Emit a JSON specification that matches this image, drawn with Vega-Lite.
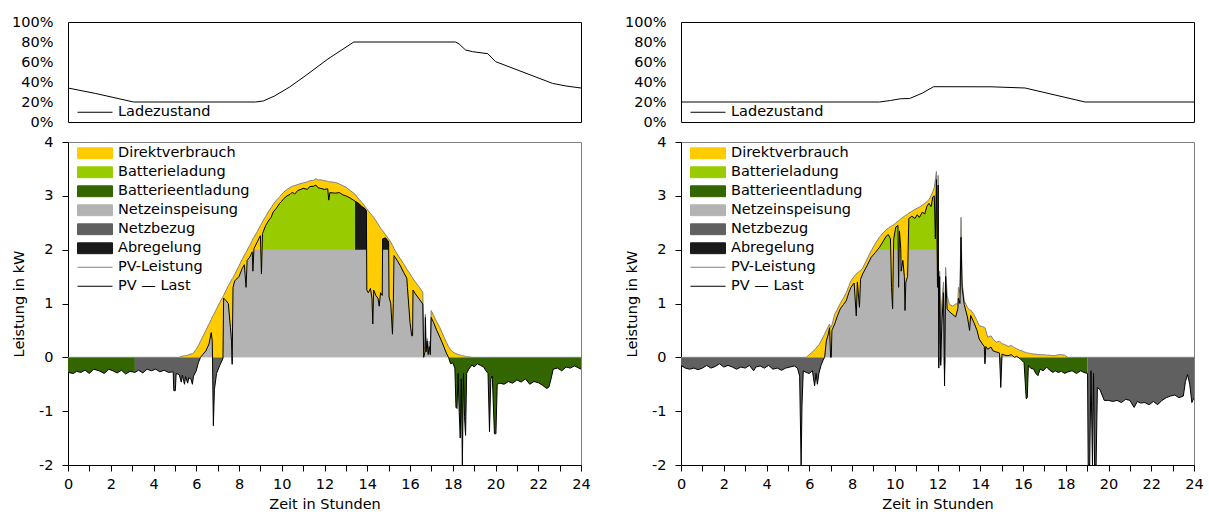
{
"$schema": "https://vega.github.io/schema/vega-lite/v6.json",
"background": "white",
"padding": {"left": 11, "top": 13, "right": 2, "bottom": 0},
"config": {
  "font": "DejaVu Sans",
  "view": {"stroke": "#808080", "strokeWidth": 1},
  "axis": {"labelFont": "DejaVu Sans", "titleFont": "DejaVu Sans", "labelFontSize": 14.5, "titleFontSize": 14.5, "titleFontWeight": "normal", "labelColor": "#000000", "titleColor": "#000000", "domainColor": "#000000", "tickColor": "#000000", "grid": false, "labelFlush": false, "labelOverlap": false},
  "legend": {"labelFont": "DejaVu Sans", "labelFontSize": 14.5, "labelColor": "#000000"}
},
"datasets": {
"sL": [{"t":0,"s":0.34},{"t":1.3,"s":0.285},{"t":3.07,"s":0.2},{"t":8.77,"s":0.2},{"t":9.13,"s":0.21},{"t":9.66,"s":0.26},{"t":10.37,"s":0.35},{"t":11.09,"s":0.46},{"t":12.16,"s":0.63},{"t":13.37,"s":0.8},{"t":18.13,"s":0.8},{"t":18.3,"s":0.78},{"t":18.6,"s":0.72},{"t":18.93,"s":0.703},{"t":19.64,"s":0.683},{"t":20.0,"s":0.604},{"t":22.67,"s":0.386},{"t":23.3,"s":0.36},{"t":24,"s":0.34}],
"sR": [{"t":0,"s":0.2},{"t":9.28,"s":0.2},{"t":9.8,"s":0.215},{"t":10.26,"s":0.232},{"t":10.7,"s":0.235},{"t":11.3,"s":0.29},{"t":11.82,"s":0.353},{"t":14.5,"s":0.352},{"t":16.1,"s":0.34},{"t":17.5,"s":0.27},{"t":18.9,"s":0.2},{"t":24,"s":0.2}],
"L": [
{"t":0,"p":0,"l":-0.28,"f":0,"n":-0.28},
{"t":0.25,"p":0,"l":-0.3,"f":0,"n":-0.3},
{"t":0.4,"p":0,"l":-0.26,"f":0,"n":-0.26},
{"t":0.6,"p":0,"l":-0.28,"f":0,"n":-0.28},
{"t":0.8,"p":0,"l":-0.24,"f":0,"n":-0.24},
{"t":1,"p":0,"l":-0.3,"f":0,"n":-0.3},
{"t":1.2,"p":0,"l":-0.22,"f":0,"n":-0.22},
{"t":1.45,"p":0,"l":-0.25,"f":0,"n":-0.25},
{"t":1.7,"p":0,"l":-0.3,"f":0,"n":-0.3},
{"t":1.9,"p":0,"l":-0.22,"f":0,"n":-0.22},
{"t":2.1,"p":0,"l":-0.25,"f":0,"n":-0.25},
{"t":2.3,"p":0,"l":-0.29,"f":0,"n":-0.29},
{"t":2.5,"p":0,"l":-0.24,"f":0,"n":-0.24},
{"t":2.7,"p":0,"l":-0.31,"f":0,"n":-0.31},
{"t":2.9,"p":0,"l":-0.26,"f":0,"n":-0.26},
{"t":3.13,"p":0,"l":-0.28,"f":0,"n":-0.28},
{"t":3.3,"p":0,"l":-0.24,"f":0,"n":-0.24},
{"t":3.5,"p":0,"l":-0.29,"f":0,"n":-0.29},
{"t":3.7,"p":0,"l":-0.22,"f":0,"n":-0.22},
{"t":3.9,"p":0,"l":-0.25,"f":0,"n":-0.25},
{"t":4.1,"p":0,"l":-0.22,"f":0,"n":-0.22},
{"t":4.3,"p":0,"l":-0.27,"f":0,"n":-0.27},
{"t":4.5,"p":0,"l":-0.24,"f":0,"n":-0.24},
{"t":4.7,"p":0,"l":-0.28,"f":0,"n":-0.28},
{"t":4.92,"p":0,"l":-0.27,"f":0,"n":-0.27},
{"t":4.95,"p":0,"l":-0.62,"f":0,"n":-0.62},
{"t":5.02,"p":0,"l":-0.62,"f":0,"n":-0.62},
{"t":5.06,"p":0,"l":-0.3,"f":0,"n":-0.3},
{"t":5.2,"p":0,"l":-0.32,"f":0,"n":-0.32},
{"t":5.3,"p":0.02,"l":-0.46,"f":0,"n":-0.46},
{"t":5.35,"p":0.02,"l":-0.33,"f":0,"n":-0.33},
{"t":5.45,"p":0.03,"l":-0.5,"f":0,"n":-0.5},
{"t":5.5,"p":0.03,"l":-0.36,"f":0,"n":-0.36},
{"t":5.6,"p":0.04,"l":-0.48,"f":0,"n":-0.48},
{"t":5.65,"p":0.05,"l":-0.38,"f":0,"n":-0.38},
{"t":5.75,"p":0.06,"l":-0.4,"f":0,"n":-0.4},
{"t":5.82,"p":0.07,"l":-0.5,"f":0,"n":-0.5},
{"t":5.87,"p":0.08,"l":-0.35,"f":0,"n":-0.35},
{"t":6.0,"p":0.15,"l":-0.25,"f":0,"n":-0.25},
{"t":6.1,"p":0.22,"l":-0.1,"f":0,"n":-0.1},
{"t":6.2,"p":0.3,"l":0,"f":0,"n":0},
{"t":6.3,"p":0.38,"l":0.05,"f":0.05,"n":0},
{"t":6.45,"p":0.5,"l":0.12,"f":0.12,"n":0},
{"t":6.6,"p":0.62,"l":0.25,"f":0.25,"n":0},
{"t":6.7,"p":0.7,"l":0.46,"f":0.46,"n":0},
{"t":6.75,"p":0.75,"l":0.3,"f":0.3,"n":0},
{"t":6.8,"p":0.78,"l":-1.27,"f":0,"n":-1.27},
{"t":6.85,"p":0.82,"l":-0.6,"f":0,"n":-0.6},
{"t":6.95,"p":0.9,"l":-0.3,"f":0,"n":-0.3},
{"t":7.1,"p":1.02,"l":-0.15,"f":0,"n":-0.15},
{"t":7.25,"p":1.13,"l":-0.02,"f":0,"n":-0.02},
{"t":7.28,"p":1.15,"l":1.1,"f":1.1,"n":0},
{"t":7.4,"p":1.25,"l":1.05,"f":1.05,"n":0},
{"t":7.5,"p":1.33,"l":1.0,"f":1.0,"n":0},
{"t":7.6,"p":1.4,"l":0.55,"f":0.55,"n":0},
{"t":7.65,"p":1.44,"l":0.3,"f":0.3,"n":0},
{"t":7.68,"p":1.46,"l":-0.13,"f":0,"n":-0.13},
{"t":7.72,"p":1.48,"l":1.3,"f":1.3,"n":0},
{"t":7.8,"p":1.54,"l":1.42,"f":1.42,"n":0},
{"t":8.0,"p":1.7,"l":1.5,"f":1.5,"n":0},
{"t":8.15,"p":1.82,"l":1.65,"f":1.65,"n":0},
{"t":8.25,"p":1.9,"l":1.72,"f":1.72,"n":0},
{"t":8.33,"p":1.95,"l":1.3,"f":1.3,"n":0},
{"t":8.38,"p":1.99,"l":1.8,"f":1.8,"n":0},
{"t":8.5,"p":2.08,"l":1.86,"f":1.86,"n":0},
{"t":8.62,"p":2.17,"l":1.96,"f":1.96,"n":0},
{"t":8.65,"p":2.2,"l":1.6,"f":1.6,"n":0},
{"t":8.7,"p":2.23,"l":2.02,"f":2,"n":0},
{"t":8.85,"p":2.33,"l":2.14,"f":2,"n":0},
{"t":9.0,"p":2.45,"l":2.26,"f":2,"n":0},
{"t":9.05,"p":2.48,"l":1.55,"f":1.55,"n":0},
{"t":9.1,"p":2.52,"l":2.3,"f":2,"n":0,"cg":1},
{"t":9.25,"p":2.62,"l":2.45,"f":2,"n":0,"cg":1},
{"t":9.4,"p":2.72,"l":2.55,"f":2,"n":0,"cg":1},
{"t":9.5,"p":2.78,"l":2.6,"f":2,"n":0,"cg":1},
{"t":9.6,"p":2.84,"l":2.7,"f":2,"n":0,"cg":1},
{"t":9.75,"p":2.92,"l":2.77,"f":2,"n":0,"cg":1},
{"t":9.9,"p":2.98,"l":2.86,"f":2,"n":0,"cg":1},
{"t":10.0,"p":3.03,"l":2.9,"f":2,"n":0,"cg":1},
{"t":10.1,"p":3.07,"l":2.95,"f":2,"n":0,"cg":1},
{"t":10.25,"p":3.12,"l":3.0,"f":2,"n":0,"cg":1},
{"t":10.4,"p":3.16,"l":3.03,"f":2,"n":0,"cg":1},
{"t":10.5,"p":3.18,"l":3.07,"f":2,"n":0,"cg":1},
{"t":10.6,"p":3.19,"l":3.03,"f":2,"n":0,"cg":1},
{"t":10.75,"p":3.21,"l":3.1,"f":2,"n":0,"cg":1},
{"t":10.9,"p":3.23,"l":3.12,"f":2,"n":0,"cg":1},
{"t":11.0,"p":3.24,"l":3.14,"f":2,"n":0,"cg":1},
{"t":11.2,"p":3.26,"l":3.12,"f":2,"n":0,"cg":1},
{"t":11.3,"p":3.28,"l":3.17,"f":2,"n":0,"cg":1},
{"t":11.5,"p":3.29,"l":3.18,"f":2,"n":0,"cg":1},
{"t":11.6,"p":3.32,"l":3.2,"f":2,"n":0,"cg":1},
{"t":11.7,"p":3.29,"l":3.15,"f":2,"n":0,"cg":1},
{"t":11.8,"p":3.3,"l":3.14,"f":2,"n":0,"cg":1},
{"t":12.0,"p":3.28,"l":3.12,"f":2,"n":0,"cg":1},
{"t":12.15,"p":3.27,"l":3.13,"f":2,"n":0,"cg":1},
{"t":12.2,"p":3.26,"l":2.92,"f":2,"n":0,"cg":1},
{"t":12.25,"p":3.26,"l":3.06,"f":2,"n":0,"cg":1},
{"t":12.5,"p":3.25,"l":3.05,"f":2,"n":0,"cg":1},
{"t":12.7,"p":3.22,"l":3.06,"f":2,"n":0,"cg":1},
{"t":12.85,"p":3.19,"l":3.02,"f":2,"n":0,"cg":1},
{"t":13.0,"p":3.16,"l":3.0,"f":2,"n":0,"cg":1},
{"t":13.2,"p":3.1,"l":2.96,"f":2,"n":0,"cg":1},
{"t":13.43,"p":3.03,"l":2.9,"f":2,"n":0,"cg":1,"kg":1},
{"t":13.6,"p":2.94,"l":2.86,"f":2,"n":0,"kg":1},
{"t":13.75,"p":2.88,"l":2.8,"f":2,"n":0,"kg":1},
{"t":13.9,"p":2.8,"l":2.76,"f":2,"n":0,"kg":1},
{"t":13.96,"p":2.77,"l":2.72,"f":2,"n":0,"kg":1},
{"t":13.98,"p":2.76,"l":1.25,"f":1.25,"n":0},
{"t":14.05,"p":2.72,"l":1.2,"f":1.2,"n":0},
{"t":14.15,"p":2.67,"l":1.28,"f":1.28,"n":0},
{"t":14.22,"p":2.64,"l":1.1,"f":1.1,"n":0},
{"t":14.26,"p":2.62,"l":0.62,"f":0.62,"n":0},
{"t":14.3,"p":2.6,"l":1.25,"f":1.25,"n":0},
{"t":14.4,"p":2.54,"l":1.15,"f":1.15,"n":0},
{"t":14.5,"p":2.48,"l":1.1,"f":1.1,"n":0},
{"t":14.56,"p":2.44,"l":0.95,"f":0.95,"n":0},
{"t":14.62,"p":2.4,"l":1.2,"f":1.2,"n":0},
{"t":14.7,"p":2.36,"l":1.15,"f":1.15,"n":0},
{"t":14.72,"p":2.35,"l":2.2,"f":2,"n":0,"kg":2},
{"t":14.85,"p":2.28,"l":2.22,"f":2,"n":0,"kg":2},
{"t":15.0,"p":2.2,"l":2.15,"f":2,"n":0,"kg":2},
{"t":15.02,"p":2.19,"l":1.12,"f":1.12,"n":0},
{"t":15.1,"p":2.14,"l":1.0,"f":1.0,"n":0},
{"t":15.18,"p":2.08,"l":0.43,"f":0.43,"n":0},
{"t":15.22,"p":2.05,"l":1.0,"f":1.0,"n":0},
{"t":15.25,"p":2.02,"l":1.89,"f":1.89,"n":0},
{"t":15.4,"p":1.92,"l":1.8,"f":1.8,"n":0},
{"t":15.55,"p":1.83,"l":1.7,"f":1.7,"n":0},
{"t":15.7,"p":1.74,"l":1.58,"f":1.58,"n":0},
{"t":15.85,"p":1.64,"l":1.47,"f":1.47,"n":0},
{"t":15.88,"p":1.62,"l":1.3,"f":1.3,"n":0},
{"t":16.0,"p":1.55,"l":0.65,"f":0.65,"n":0},
{"t":16.08,"p":1.5,"l":0.4,"f":0.4,"n":0},
{"t":16.12,"p":1.48,"l":0.4,"f":0.4,"n":0},
{"t":16.14,"p":1.46,"l":1.25,"f":1.25,"n":0},
{"t":16.25,"p":1.4,"l":1.18,"f":1.18,"n":0},
{"t":16.4,"p":1.32,"l":1.1,"f":1.1,"n":0},
{"t":16.6,"p":1.21,"l":0.99,"f":0.99,"n":0},
{"t":16.64,"p":0.15,"l":0,"f":0,"n":0},
{"t":16.7,"p":0.2,"l":0.1,"f":0.1,"n":0},
{"t":16.72,"p":0.8,"l":0.74,"f":0.74,"n":0},
{"t":16.75,"p":0.2,"l":0.1,"f":0.1,"n":0},
{"t":16.8,"p":0.35,"l":0.3,"f":0.3,"n":0},
{"t":16.85,"p":0.12,"l":0.05,"f":0.05,"n":0},
{"t":16.9,"p":0.3,"l":0.2,"f":0.2,"n":0},
{"t":16.95,"p":0.1,"l":0.05,"f":0.05,"n":0},
{"t":16.99,"p":0.87,"l":0.74,"f":0.74,"n":0},
{"t":17.1,"p":0.78,"l":0.65,"f":0.65,"n":0},
{"t":17.25,"p":0.66,"l":0.5,"f":0.5,"n":0},
{"t":17.4,"p":0.55,"l":0.37,"f":0.37,"n":0},
{"t":17.5,"p":0.46,"l":0.28,"f":0.28,"n":0},
{"t":17.6,"p":0.37,"l":0.18,"f":0.18,"n":0},
{"t":17.7,"p":0.28,"l":0.08,"f":0.08,"n":0},
{"t":17.8,"p":0.2,"l":0,"f":0,"n":0},
{"t":17.9,"p":0.14,"l":-0.12,"f":0,"n":-0.12},
{"t":18.0,"p":0.1,"l":-0.1,"f":0,"n":-0.1},
{"t":18.1,"p":0.08,"l":-0.2,"f":0,"n":-0.2},
{"t":18.15,"p":0.07,"l":-0.93,"f":0,"n":-0.93},
{"t":18.2,"p":0.06,"l":-0.95,"f":0,"n":-0.95},
{"t":18.25,"p":0.05,"l":-0.3,"f":0,"n":-0.3},
{"t":18.3,"p":0.05,"l":-1.0,"f":0,"n":-1.0},
{"t":18.35,"p":0.04,"l":-1.5,"f":0,"n":-1.5},
{"t":18.4,"p":0.04,"l":-0.4,"f":0,"n":-0.4},
{"t":18.45,"p":0.03,"l":-2.0,"f":0,"n":-2.0},
{"t":18.5,"p":0.03,"l":-0.3,"f":0,"n":-0.3},
{"t":18.55,"p":0.02,"l":-1.1,"f":0,"n":-1.1},
{"t":18.6,"p":0.02,"l":-1.45,"f":0,"n":-1.45},
{"t":18.65,"p":0.01,"l":-0.3,"f":0,"n":-0.3},
{"t":18.75,"p":0.01,"l":-0.22,"f":0,"n":-0.22},
{"t":18.9,"p":0,"l":-0.14,"f":0,"n":-0.14},
{"t":19.0,"p":0,"l":-0.18,"f":0,"n":-0.18},
{"t":19.15,"p":0,"l":-0.12,"f":0,"n":-0.12},
{"t":19.3,"p":0,"l":-0.15,"f":0,"n":-0.15},
{"t":19.45,"p":0,"l":-0.18,"f":0,"n":-0.18},
{"t":19.55,"p":0,"l":-0.25,"f":0,"n":-0.25},
{"t":19.65,"p":0,"l":-0.3,"f":0,"n":-0.3},
{"t":19.72,"p":0,"l":-1.38,"f":0,"n":-1.38},
{"t":19.78,"p":0,"l":-0.4,"f":0,"n":-0.4},
{"t":19.85,"p":0,"l":-0.35,"f":0,"n":-0.35},
{"t":19.95,"p":0,"l":-1.42,"f":0,"n":-1.42},
{"t":20.02,"p":0,"l":-1.42,"f":0,"n":-1.42},
{"t":20.08,"p":0,"l":-0.5,"f":0,"n":-0.5},
{"t":20.2,"p":0,"l":-0.48,"f":0,"n":-0.48},
{"t":20.4,"p":0,"l":-0.5,"f":0,"n":-0.5},
{"t":20.6,"p":0,"l":-0.45,"f":0,"n":-0.45},
{"t":20.8,"p":0,"l":-0.48,"f":0,"n":-0.48},
{"t":21.0,"p":0,"l":-0.42,"f":0,"n":-0.42},
{"t":21.2,"p":0,"l":-0.46,"f":0,"n":-0.46},
{"t":21.4,"p":0,"l":-0.4,"f":0,"n":-0.4},
{"t":21.6,"p":0,"l":-0.5,"f":0,"n":-0.5},
{"t":21.8,"p":0,"l":-0.45,"f":0,"n":-0.45},
{"t":22.0,"p":0,"l":-0.47,"f":0,"n":-0.47},
{"t":22.2,"p":0,"l":-0.52,"f":0,"n":-0.52},
{"t":22.4,"p":0,"l":-0.58,"f":0,"n":-0.58},
{"t":22.5,"p":0,"l":-0.55,"f":0,"n":-0.55},
{"t":22.6,"p":0,"l":-0.4,"f":0,"n":-0.4},
{"t":22.7,"p":0,"l":-0.22,"f":0,"n":-0.22},
{"t":22.9,"p":0,"l":-0.2,"f":0,"n":-0.2},
{"t":23.1,"p":0,"l":-0.25,"f":0,"n":-0.25},
{"t":23.3,"p":0,"l":-0.18,"f":0,"n":-0.18},
{"t":23.5,"p":0,"l":-0.2,"f":0,"n":-0.2},
{"t":23.7,"p":0,"l":-0.16,"f":0,"n":-0.16},
{"t":23.9,"p":0,"l":-0.2,"f":0,"n":-0.2},
{"t":24,"p":0,"l":-0.22,"f":0,"n":-0.22}
],
"R": [
{"t":0,"p":0,"l":-0.15,"f":0,"n":-0.15},
{"t":0.2,"p":0,"l":-0.2,"f":0,"n":-0.2},
{"t":0.4,"p":0,"l":-0.22,"f":0,"n":-0.22},
{"t":0.6,"p":0,"l":-0.2,"f":0,"n":-0.2},
{"t":0.8,"p":0,"l":-0.23,"f":0,"n":-0.23},
{"t":1.0,"p":0,"l":-0.2,"f":0,"n":-0.2},
{"t":1.2,"p":0,"l":-0.15,"f":0,"n":-0.15},
{"t":1.4,"p":0,"l":-0.2,"f":0,"n":-0.2},
{"t":1.6,"p":0,"l":-0.17,"f":0,"n":-0.17},
{"t":1.8,"p":0,"l":-0.12,"f":0,"n":-0.12},
{"t":2.0,"p":0,"l":-0.18,"f":0,"n":-0.18},
{"t":2.2,"p":0,"l":-0.15,"f":0,"n":-0.15},
{"t":2.4,"p":0,"l":-0.18,"f":0,"n":-0.18},
{"t":2.6,"p":0,"l":-0.22,"f":0,"n":-0.22},
{"t":2.8,"p":0,"l":-0.18,"f":0,"n":-0.18},
{"t":3.0,"p":0,"l":-0.2,"f":0,"n":-0.2},
{"t":3.2,"p":0,"l":-0.15,"f":0,"n":-0.15},
{"t":3.4,"p":0,"l":-0.25,"f":0,"n":-0.25},
{"t":3.5,"p":0,"l":-0.18,"f":0,"n":-0.18},
{"t":3.7,"p":0,"l":-0.16,"f":0,"n":-0.16},
{"t":3.9,"p":0,"l":-0.2,"f":0,"n":-0.2},
{"t":4.1,"p":0,"l":-0.15,"f":0,"n":-0.15},
{"t":4.3,"p":0,"l":-0.22,"f":0,"n":-0.22},
{"t":4.5,"p":0,"l":-0.2,"f":0,"n":-0.2},
{"t":4.7,"p":0,"l":-0.24,"f":0,"n":-0.24},
{"t":4.9,"p":0,"l":-0.2,"f":0,"n":-0.2},
{"t":5.1,"p":0,"l":-0.18,"f":0,"n":-0.18},
{"t":5.3,"p":0,"l":-0.16,"f":0,"n":-0.16},
{"t":5.45,"p":0,"l":-0.2,"f":0,"n":-0.2},
{"t":5.55,"p":0,"l":-0.35,"f":0,"n":-0.35},
{"t":5.62,"p":0,"l":-2.0,"f":0,"n":-2.0},
{"t":5.66,"p":0,"l":-0.9,"f":0,"n":-0.9},
{"t":5.72,"p":0,"l":-0.25,"f":0,"n":-0.25},
{"t":5.86,"p":0,"l":-0.28,"f":0,"n":-0.28},
{"t":6.0,"p":0.05,"l":-0.3,"f":0,"n":-0.3},
{"t":6.15,"p":0.1,"l":-0.25,"f":0,"n":-0.25},
{"t":6.25,"p":0.14,"l":-0.53,"f":0,"n":-0.53},
{"t":6.32,"p":0.17,"l":-0.3,"f":0,"n":-0.3},
{"t":6.38,"p":0.2,"l":-0.5,"f":0,"n":-0.5},
{"t":6.45,"p":0.23,"l":-0.3,"f":0,"n":-0.3},
{"t":6.55,"p":0.3,"l":-0.15,"f":0,"n":-0.15},
{"t":6.65,"p":0.38,"l":-0.05,"f":0,"n":-0.05},
{"t":6.72,"p":0.43,"l":0,"f":0,"n":0},
{"t":6.8,"p":0.5,"l":0.3,"f":0.3,"n":0},
{"t":6.9,"p":0.58,"l":0.45,"f":0.45,"n":0},
{"t":6.95,"p":0.62,"l":0.55,"f":0.55,"n":0},
{"t":7.0,"p":0.55,"l":0,"f":0,"n":0},
{"t":7.03,"p":0.56,"l":0,"f":0,"n":0},
{"t":7.06,"p":0.6,"l":0.5,"f":0.5,"n":0},
{"t":7.19,"p":0.8,"l":0.62,"f":0.62,"n":0},
{"t":7.3,"p":0.88,"l":0.75,"f":0.75,"n":0},
{"t":7.45,"p":1.0,"l":0.9,"f":0.9,"n":0},
{"t":7.6,"p":1.1,"l":0.98,"f":0.98,"n":0},
{"t":7.73,"p":1.2,"l":1.05,"f":1.05,"n":0},
{"t":7.85,"p":1.32,"l":1.2,"f":1.2,"n":0},
{"t":7.95,"p":1.42,"l":1.3,"f":1.3,"n":0},
{"t":8.1,"p":1.5,"l":1.38,"f":1.38,"n":0},
{"t":8.2,"p":1.55,"l":0.77,"f":0.77,"n":0},
{"t":8.25,"p":1.57,"l":1.4,"f":1.4,"n":0},
{"t":8.35,"p":1.6,"l":0.93,"f":0.93,"n":0},
{"t":8.4,"p":1.61,"l":1.45,"f":1.45,"n":0},
{"t":8.5,"p":1.66,"l":1.55,"f":1.55,"n":0},
{"t":8.7,"p":1.82,"l":1.7,"f":1.7,"n":0},
{"t":8.9,"p":1.98,"l":1.86,"f":1.86,"n":0},
{"t":9.1,"p":2.12,"l":1.95,"f":1.95,"n":0},
{"t":9.28,"p":2.23,"l":2.04,"f":2,"n":0,"cg":1},
{"t":9.45,"p":2.31,"l":2.15,"f":2,"n":0,"cg":1},
{"t":9.6,"p":2.37,"l":2.25,"f":2,"n":0,"cg":1},
{"t":9.7,"p":2.4,"l":2.28,"f":2,"n":0,"cg":1},
{"t":9.8,"p":2.43,"l":2.2,"f":2,"n":0,"cg":1},
{"t":9.85,"p":2.44,"l":1.3,"f":1.3,"n":0},
{"t":9.9,"p":2.45,"l":0.9,"f":0.9,"n":0},
{"t":9.95,"p":2.46,"l":2.2,"f":2,"n":0,"cg":2},
{"t":10.05,"p":2.5,"l":2.42,"f":2,"n":0,"cg":2},
{"t":10.15,"p":2.53,"l":2.45,"f":2,"n":0,"cg":2},
{"t":10.18,"p":2.54,"l":1.3,"f":1.3,"n":0},
{"t":10.22,"p":2.55,"l":2.35,"f":2,"n":0,"cg":3},
{"t":10.28,"p":2.57,"l":2.02,"f":2,"n":0,"cg":3},
{"t":10.3,"p":2.58,"l":1.6,"f":1.6,"n":0},
{"t":10.38,"p":2.6,"l":1.8,"f":1.8,"n":0},
{"t":10.45,"p":2.62,"l":1.5,"f":1.5,"n":0},
{"t":10.48,"p":2.63,"l":0.87,"f":0.87,"n":0},
{"t":10.52,"p":2.64,"l":1.4,"f":1.4,"n":0},
{"t":10.6,"p":2.66,"l":1.5,"f":1.5,"n":0},
{"t":10.66,"p":2.68,"l":2.58,"f":2,"n":0,"cg":4},
{"t":10.8,"p":2.71,"l":2.62,"f":2,"n":0,"cg":4},
{"t":10.95,"p":2.75,"l":2.58,"f":2,"n":0,"cg":4},
{"t":11.05,"p":2.77,"l":2.65,"f":2,"n":0,"cg":4},
{"t":11.15,"p":2.79,"l":2.6,"f":2,"n":0,"cg":4},
{"t":11.3,"p":2.83,"l":2.7,"f":2,"n":0,"cg":4},
{"t":11.4,"p":2.86,"l":2.66,"f":2,"n":0,"cg":4},
{"t":11.5,"p":2.89,"l":2.8,"f":2,"n":0,"cg":4},
{"t":11.6,"p":2.93,"l":2.86,"f":2,"n":0,"cg":4},
{"t":11.7,"p":3.0,"l":2.8,"f":2,"n":0,"cg":4},
{"t":11.78,"p":3.08,"l":2.98,"f":2,"n":0,"cg":4},
{"t":11.85,"p":3.15,"l":3.0,"f":2,"n":0,"cg":4},
{"t":11.9,"p":3.3,"l":2.2,"f":2,"n":0,"cg":4},
{"t":11.95,"p":3.45,"l":3.3,"f":2,"n":0,"cg":4},
{"t":12.0,"p":1.8,"l":1.3,"f":1.3,"n":0},
{"t":12.03,"p":3.38,"l":3.2,"f":2,"n":0},
{"t":12.06,"p":0.25,"l":-0.2,"f":0,"n":-0.2},
{"t":12.1,"p":1.6,"l":1.5,"f":1.5,"n":0},
{"t":12.15,"p":0.3,"l":-0.15,"f":0,"n":-0.15},
{"t":12.2,"p":1.0,"l":0.6,"f":0.6,"n":0},
{"t":12.28,"p":1.4,"l":1.2,"f":1.2,"n":0},
{"t":12.33,"p":0.05,"l":-0.53,"f":0,"n":-0.53},
{"t":12.38,"p":1.67,"l":1.5,"f":1.5,"n":0},
{"t":12.45,"p":1.15,"l":0.9,"f":0.9,"n":0},
{"t":12.55,"p":0.99,"l":0.85,"f":0.85,"n":0},
{"t":12.7,"p":0.95,"l":0.8,"f":0.8,"n":0},
{"t":12.85,"p":0.99,"l":0.75,"f":0.75,"n":0},
{"t":12.95,"p":1.0,"l":0.9,"f":0.9,"n":0},
{"t":12.98,"p":1.3,"l":1.1,"f":1.1,"n":0},
{"t":13.05,"p":1.2,"l":1.0,"f":1.0,"n":0},
{"t":13.1,"p":2.6,"l":2.23,"f":2,"n":0},
{"t":13.15,"p":1.4,"l":1.3,"f":1.3,"n":0},
{"t":13.25,"p":1.05,"l":0.98,"f":0.98,"n":0},
{"t":13.4,"p":0.93,"l":0.75,"f":0.75,"n":0},
{"t":13.5,"p":0.88,"l":0.5,"f":0.5,"n":0},
{"t":13.55,"p":0.88,"l":0.78,"f":0.78,"n":0},
{"t":13.7,"p":0.8,"l":0.65,"f":0.65,"n":0},
{"t":13.85,"p":0.68,"l":0.5,"f":0.5,"n":0},
{"t":13.95,"p":0.59,"l":0.34,"f":0.34,"n":0},
{"t":14.1,"p":0.57,"l":0.25,"f":0.25,"n":0},
{"t":14.19,"p":0.56,"l":0.2,"f":0.2,"n":0},
{"t":14.22,"p":0.55,"l":-0.12,"f":0,"n":-0.12},
{"t":14.26,"p":0.5,"l":0.2,"f":0.2,"n":0},
{"t":14.35,"p":0.37,"l":0.15,"f":0.15,"n":0},
{"t":14.5,"p":0.4,"l":0.19,"f":0.19,"n":0},
{"t":14.6,"p":0.34,"l":0.12,"f":0.12,"n":0},
{"t":14.75,"p":0.28,"l":0.1,"f":0.1,"n":0},
{"t":14.9,"p":0.3,"l":0.08,"f":0.08,"n":0},
{"t":14.96,"p":0.28,"l":-0.56,"f":0,"n":-0.56},
{"t":15.02,"p":0.25,"l":0.06,"f":0.06,"n":0},
{"t":15.15,"p":0.24,"l":0.04,"f":0.04,"n":0},
{"t":15.3,"p":0.2,"l":0.03,"f":0.03,"n":0},
{"t":15.45,"p":0.22,"l":0.05,"f":0.05,"n":0},
{"t":15.6,"p":0.18,"l":0,"f":0,"n":0},
{"t":15.7,"p":0.16,"l":0.02,"f":0.02,"n":0},
{"t":15.85,"p":0.13,"l":-0.02,"f":0,"n":-0.02},
{"t":15.95,"p":0.12,"l":-0.06,"f":0,"n":-0.06},
{"t":16.05,"p":0.1,"l":-0.1,"f":0,"n":-0.1},
{"t":16.15,"p":0.09,"l":-0.77,"f":0,"n":-0.77},
{"t":16.2,"p":0.08,"l":-0.75,"f":0,"n":-0.75},
{"t":16.25,"p":0.08,"l":-0.15,"f":0,"n":-0.15},
{"t":16.35,"p":0.07,"l":-0.2,"f":0,"n":-0.2},
{"t":16.5,"p":0.06,"l":-0.22,"f":0,"n":-0.22},
{"t":16.6,"p":0.06,"l":-0.3,"f":0,"n":-0.3},
{"t":16.7,"p":0.05,"l":-0.34,"f":0,"n":-0.34},
{"t":16.8,"p":0.05,"l":-0.22,"f":0,"n":-0.22},
{"t":16.95,"p":0.05,"l":-0.25,"f":0,"n":-0.25},
{"t":17.1,"p":0.04,"l":-0.18,"f":0,"n":-0.18},
{"t":17.25,"p":0.04,"l":-0.24,"f":0,"n":-0.24},
{"t":17.4,"p":0.03,"l":-0.28,"f":0,"n":-0.28},
{"t":17.5,"p":0.03,"l":-0.25,"f":0,"n":-0.25},
{"t":17.65,"p":0.05,"l":-0.28,"f":0,"n":-0.28},
{"t":17.8,"p":0.05,"l":-0.26,"f":0,"n":-0.26},
{"t":17.95,"p":0.04,"l":-0.3,"f":0,"n":-0.3},
{"t":18.1,"p":0,"l":-0.27,"f":0,"n":-0.27},
{"t":18.3,"p":0,"l":-0.25,"f":0,"n":-0.25},
{"t":18.5,"p":0,"l":-0.3,"f":0,"n":-0.3},
{"t":18.7,"p":0,"l":-0.25,"f":0,"n":-0.25},
{"t":18.85,"p":0,"l":-0.28,"f":0,"n":-0.28},
{"t":19.02,"p":0,"l":-0.3,"f":0,"n":-0.3},
{"t":19.05,"p":0,"l":-2.0,"f":0,"n":-2.0},
{"t":19.12,"p":0,"l":-2.0,"f":0,"n":-2.0},
{"t":19.18,"p":0,"l":-0.25,"f":0,"n":-0.25},
{"t":19.25,"p":0,"l":-2.0,"f":0,"n":-2.0},
{"t":19.3,"p":0,"l":-0.3,"f":0,"n":-0.3},
{"t":19.35,"p":0,"l":-2.0,"f":0,"n":-2.0},
{"t":19.42,"p":0,"l":-2.0,"f":0,"n":-2.0},
{"t":19.48,"p":0,"l":-0.56,"f":0,"n":-0.56},
{"t":19.6,"p":0,"l":-0.6,"f":0,"n":-0.6},
{"t":19.8,"p":0,"l":-0.8,"f":0,"n":-0.8},
{"t":20.0,"p":0,"l":-0.8,"f":0,"n":-0.8},
{"t":20.2,"p":0,"l":-0.82,"f":0,"n":-0.82},
{"t":20.4,"p":0,"l":-0.8,"f":0,"n":-0.8},
{"t":20.6,"p":0,"l":-0.84,"f":0,"n":-0.84},
{"t":20.8,"p":0,"l":-0.78,"f":0,"n":-0.78},
{"t":21.0,"p":0,"l":-0.8,"f":0,"n":-0.8},
{"t":21.2,"p":0,"l":-0.93,"f":0,"n":-0.93},
{"t":21.35,"p":0,"l":-0.82,"f":0,"n":-0.82},
{"t":21.5,"p":0,"l":-0.85,"f":0,"n":-0.85},
{"t":21.7,"p":0,"l":-0.84,"f":0,"n":-0.84},
{"t":21.9,"p":0,"l":-0.88,"f":0,"n":-0.88},
{"t":22.1,"p":0,"l":-0.82,"f":0,"n":-0.82},
{"t":22.3,"p":0,"l":-0.88,"f":0,"n":-0.88},
{"t":22.5,"p":0,"l":-0.8,"f":0,"n":-0.8},
{"t":22.7,"p":0,"l":-0.75,"f":0,"n":-0.75},
{"t":22.9,"p":0,"l":-0.72,"f":0,"n":-0.72},
{"t":23.1,"p":0,"l":-0.7,"f":0,"n":-0.7},
{"t":23.3,"p":0,"l":-0.75,"f":0,"n":-0.75},
{"t":23.5,"p":0,"l":-0.72,"f":0,"n":-0.72},
{"t":23.6,"p":0,"l":-0.45,"f":0,"n":-0.45},
{"t":23.7,"p":0,"l":-0.32,"f":0,"n":-0.32},
{"t":23.8,"p":0,"l":-0.5,"f":0,"n":-0.5},
{"t":23.9,"p":0,"l":-0.84,"f":0,"n":-0.84},
{"t":24,"p":0,"l":-0.75,"f":0,"n":-0.75}
]
},
"spacing": 33,
"resolve": {"scale": {"color": "independent"}, "legend": {"color": "independent"}},
"hconcat": [
{
 "spacing": 20, "bounds": "flush",
 "resolve": {"scale": {"color": "independent"}, "legend": {"color": "independent"}},
 "vconcat": [
  {
   "width": 513, "height": 100,
   "view": {"stroke": "#000000"},
   "data": {"name": "sL"},
   "mark": {"type": "line", "strokeWidth": 1, "clip": true},
   "encoding": {
    "x": {"field": "t", "type": "quantitative", "scale": {"domain": [0, 24], "nice": false, "zero": false}, "axis": null},
    "y": {"field": "s", "type": "quantitative", "scale": {"domain": [0, 1], "nice": false}, "axis": {"title": null, "values": [0, 0.2, 0.4, 0.6, 0.8, 1], "format": ".0%", "tickSize": 0, "labelPadding": 15, "domain": false}},
    "color": {"datum": "Ladezustand", "type": "nominal", "scale": {"domain": ["Ladezustand"], "range": ["#000000"]},
      "legend": {"title": null, "orient": "bottom-left", "offset": 2, "padding": 0, "clipHeight": 14.5, "symbolType": "stroke", "symbolSize": 1225, "symbolStrokeWidth": 1, "symbolOffset": 7, "labelOffset": 5}}
   }
  },
  {
   "width": 513, "height": 323,
   "data": {"name": "L"},
   "encoding": {"x": {"field": "t", "type": "quantitative", "scale": {"domain": [0, 24], "nice": false, "zero": false}, "axis": {"title": "Zeit in Stunden", "values": [0,1,2,3,4,5,6,7,8,9,10,11,12,13,14,15,16,17,18,19,20,21,22,23,24], "labelExpr": "datum.value % 2 === 0 ? '' + datum.value : ''", "tickSize": 6, "labelPadding": 6, "titlePadding": 7}}},
   "layer": [
    {"transform": [{"filter": "datum.t <= 3.13"}], "mark": {"type": "area", "clip": true, "opacity": 1},
     "encoding": {"y": {"field": "n", "type": "quantitative", "title": "Leistung in kW", "scale": {"domain": [-2, 4], "nice": false}, "axis": {"title": "Leistung in kW", "values": [-2,-1.5,-1,-0.5,0,0.5,1,1.5,2,2.5,3,3.5,4], "labelExpr": "datum.value % 1 === 0 ? '' + datum.value : ''", "tickSize": 6, "labelPadding": 9, "titlePadding": 12}},
      "y2": {"datum": 0},
      "color": {"datum": "Batterieentladung", "type": "nominal",
        "scale": {"domain": ["Direktverbrauch","Batterieladung","Batterieentladung","Netzeinspeisung","Netzbezug","Abregelung","PV-Leistung","PV — Last"], "range": ["#ffcc00","#99cc00","#336600","#b3b3b3","#606060","#1a1a1a","#808080","#000000"]},
        "legend": {"title": null, "orient": "top-left", "offset": 4, "padding": 0, "clipHeight": 14.5, "rowPadding": 3, "symbolSize": 1225, "symbolOffset": 5, "labelOffset": 5, "symbolStrokeWidth": 1,
          "symbolType": {"expr": "datum.value === 'PV-Leistung' || datum.value === 'PV — Last' ? 'stroke' : 'M-1,-0.31H1V0.31H-1Z'"},
          "symbolStrokeColor": {"expr": "datum.value === 'PV-Leistung' ? '#808080' : datum.value === 'PV — Last' ? '#000000' : 'transparent'"}}}}},
    {"transform": [{"filter": "datum.t >= 3.13 && datum.t <= 17.8"}], "mark": {"type": "area", "clip": true, "opacity": 1},
     "encoding": {"y": {"field": "n", "type": "quantitative", "title": "Leistung in kW"}, "y2": {"datum": 0}, "color": {"datum": "Netzbezug", "type": "nominal", "legend": null}}},
    {"transform": [{"filter": "datum.t >= 17.8"}], "mark": {"type": "area", "clip": true, "opacity": 1},
     "encoding": {"y": {"field": "n", "type": "quantitative", "title": "Leistung in kW"}, "y2": {"datum": 0}, "color": {"datum": "Batterieentladung", "type": "nominal", "legend": null}}},
    {"mark": {"type": "area", "clip": true, "opacity": 1},
     "encoding": {"y": {"field": "p", "type": "quantitative", "title": "Leistung in kW"}, "y2": {"datum": 0}, "color": {"datum": "Direktverbrauch", "type": "nominal", "legend": null}}},
    {"mark": {"type": "area", "clip": true, "opacity": 1},
     "encoding": {"y": {"field": "f", "type": "quantitative", "title": "Leistung in kW"}, "y2": {"datum": 0}, "color": {"datum": "Netzeinspeisung", "type": "nominal", "legend": null}}},
    {"transform": [{"filter": "isValid(datum.cg)"}], "mark": {"type": "area", "clip": true, "opacity": 1},
     "encoding": {"y": {"field": "l", "type": "quantitative", "title": "Leistung in kW"}, "y2": {"datum": 2}, "detail": {"field": "cg", "type": "nominal"}, "color": {"datum": "Batterieladung", "type": "nominal", "legend": null}}},
    {"transform": [{"filter": "isValid(datum.kg)"}], "mark": {"type": "area", "clip": true, "opacity": 1},
     "encoding": {"y": {"field": "l", "type": "quantitative", "title": "Leistung in kW"}, "y2": {"datum": 2}, "detail": {"field": "kg", "type": "nominal"}, "color": {"datum": "Abregelung", "type": "nominal", "legend": null}}},
    {"mark": {"type": "line", "clip": true, "strokeWidth": 1},
     "encoding": {"y": {"field": "p", "type": "quantitative", "title": "Leistung in kW"}, "color": {"datum": "PV-Leistung", "type": "nominal", "legend": null}}},
    {"mark": {"type": "line", "clip": true, "strokeWidth": 1},
     "encoding": {"y": {"field": "l", "type": "quantitative", "title": "Leistung in kW"}, "color": {"datum": "PV — Last", "type": "nominal", "legend": null}}}
   ]
  }
 ]
},
{
 "spacing": 20, "bounds": "flush",
 "resolve": {"scale": {"color": "independent"}, "legend": {"color": "independent"}},
 "vconcat": [
  {
   "width": 513, "height": 100,
   "view": {"stroke": "#000000"},
   "data": {"name": "sR"},
   "mark": {"type": "line", "strokeWidth": 1, "clip": true},
   "encoding": {
    "x": {"field": "t", "type": "quantitative", "scale": {"domain": [0, 24], "nice": false, "zero": false}, "axis": null},
    "y": {"field": "s", "type": "quantitative", "scale": {"domain": [0, 1], "nice": false}, "axis": {"title": null, "values": [0, 0.2, 0.4, 0.6, 0.8, 1], "format": ".0%", "tickSize": 0, "labelPadding": 15, "domain": false}},
    "color": {"datum": "Ladezustand", "type": "nominal", "scale": {"domain": ["Ladezustand"], "range": ["#000000"]},
      "legend": {"title": null, "orient": "bottom-left", "offset": 2, "padding": 0, "clipHeight": 14.5, "symbolType": "stroke", "symbolSize": 1225, "symbolStrokeWidth": 1, "symbolOffset": 7, "labelOffset": 5}}
   }
  },
  {
   "width": 513, "height": 323,
   "data": {"name": "R"},
   "encoding": {"x": {"field": "t", "type": "quantitative", "scale": {"domain": [0, 24], "nice": false, "zero": false}, "axis": {"title": "Zeit in Stunden", "values": [0,1,2,3,4,5,6,7,8,9,10,11,12,13,14,15,16,17,18,19,20,21,22,23,24], "labelExpr": "datum.value % 2 === 0 ? '' + datum.value : ''", "tickSize": 6, "labelPadding": 6, "titlePadding": 7}}},
   "layer": [
    {"transform": [{"filter": "datum.t <= 15.85"}], "mark": {"type": "area", "clip": true, "opacity": 1},
     "encoding": {"y": {"field": "n", "type": "quantitative", "title": "Leistung in kW", "scale": {"domain": [-2, 4], "nice": false}, "axis": {"title": "Leistung in kW", "values": [-2,-1.5,-1,-0.5,0,0.5,1,1.5,2,2.5,3,3.5,4], "labelExpr": "datum.value % 1 === 0 ? '' + datum.value : ''", "tickSize": 6, "labelPadding": 9, "titlePadding": 12}},
      "y2": {"datum": 0},
      "color": {"datum": "Netzbezug", "type": "nominal",
        "scale": {"domain": ["Direktverbrauch","Batterieladung","Batterieentladung","Netzeinspeisung","Netzbezug","Abregelung","PV-Leistung","PV — Last"], "range": ["#ffcc00","#99cc00","#336600","#b3b3b3","#606060","#1a1a1a","#808080","#000000"]},
        "legend": {"title": null, "orient": "top-left", "offset": 4, "padding": 0, "clipHeight": 14.5, "rowPadding": 3, "symbolSize": 1225, "symbolOffset": 5, "labelOffset": 5, "symbolStrokeWidth": 1,
          "symbolType": {"expr": "datum.value === 'PV-Leistung' || datum.value === 'PV — Last' ? 'stroke' : 'M-1,-0.31H1V0.31H-1Z'"},
          "symbolStrokeColor": {"expr": "datum.value === 'PV-Leistung' ? '#808080' : datum.value === 'PV — Last' ? '#000000' : 'transparent'"}}}}},
    {"transform": [{"filter": "datum.t >= 15.85 && datum.t <= 19.02"}], "mark": {"type": "area", "clip": true, "opacity": 1},
     "encoding": {"y": {"field": "n", "type": "quantitative", "title": "Leistung in kW"}, "y2": {"datum": 0}, "color": {"datum": "Batterieentladung", "type": "nominal", "legend": null}}},
    {"transform": [{"filter": "datum.t >= 19.02"}], "mark": {"type": "area", "clip": true, "opacity": 1},
     "encoding": {"y": {"field": "n", "type": "quantitative", "title": "Leistung in kW"}, "y2": {"datum": 0}, "color": {"datum": "Netzbezug", "type": "nominal", "legend": null}}},
    {"mark": {"type": "area", "clip": true, "opacity": 1},
     "encoding": {"y": {"field": "p", "type": "quantitative", "title": "Leistung in kW"}, "y2": {"datum": 0}, "color": {"datum": "Direktverbrauch", "type": "nominal", "legend": null}}},
    {"mark": {"type": "area", "clip": true, "opacity": 1},
     "encoding": {"y": {"field": "f", "type": "quantitative", "title": "Leistung in kW"}, "y2": {"datum": 0}, "color": {"datum": "Netzeinspeisung", "type": "nominal", "legend": null}}},
    {"transform": [{"filter": "isValid(datum.cg)"}], "mark": {"type": "area", "clip": true, "opacity": 1},
     "encoding": {"y": {"field": "l", "type": "quantitative", "title": "Leistung in kW"}, "y2": {"datum": 2}, "detail": {"field": "cg", "type": "nominal"}, "color": {"datum": "Batterieladung", "type": "nominal", "legend": null}}},
    {"mark": {"type": "line", "clip": true, "strokeWidth": 1},
     "encoding": {"y": {"field": "p", "type": "quantitative", "title": "Leistung in kW"}, "color": {"datum": "PV-Leistung", "type": "nominal", "legend": null}}},
    {"mark": {"type": "line", "clip": true, "strokeWidth": 1},
     "encoding": {"y": {"field": "l", "type": "quantitative", "title": "Leistung in kW"}, "color": {"datum": "PV — Last", "type": "nominal", "legend": null}}}
   ]
  }
 ]
}
]
}
